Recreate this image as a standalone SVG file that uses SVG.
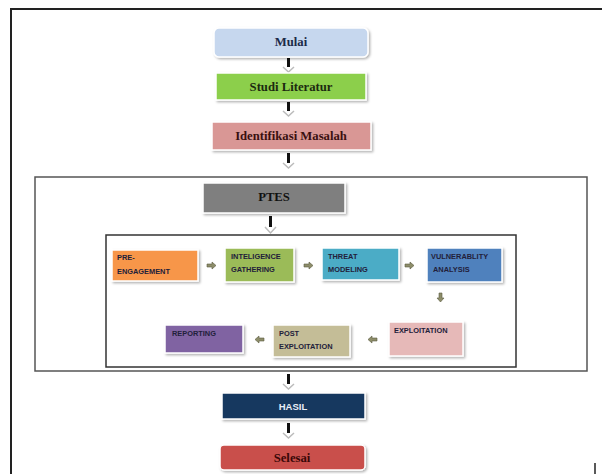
<svg xmlns="http://www.w3.org/2000/svg" width="602" height="474" viewBox="0 0 602 474">
<defs>
<style>
.t{font-family:"Liberation Serif","Times New Roman",serif;font-weight:bold;font-size:12.7px;text-anchor:middle}
.s{font-family:"Liberation Sans",Arial,sans-serif;font-weight:bold;font-size:7.4px;fill:#22203a}
.frame{fill:none;stroke:#222;stroke-width:2}
.box{stroke:#fff;stroke-width:1.5}
.bar{fill:#111}
.chev{fill:none;stroke:#bbb;stroke-width:1.5}
.blk{fill:#8d8d6a;stroke:#5a5a40;stroke-width:0.6}
</style>
<filter id="sh" x="-10%" y="-10%" width="130%" height="140%"><feDropShadow dx="1.5" dy="1.5" stdDeviation="1" flood-color="#000" flood-opacity="0.3"/></filter>
</defs>
<rect width="602" height="474" fill="#fff"/>
<path class="frame" d="M11 474 V9 H602"/>
<line x1="595" y1="463" x2="595" y2="474" stroke="#222" stroke-width="1.5"/>
<rect x="35" y="177" width="552" height="194" fill="none" stroke="#555" stroke-width="1.5"/>
<rect x="106" y="235" width="410" height="132" fill="none" stroke="#333" stroke-width="1.5"/>

<g id="connectors">
<rect class="bar" x="287" y="58" width="3" height="9"/><polyline class="chev" points="283,67 288.5,72 294,67"/>
<rect class="bar" x="287" y="102" width="3" height="9"/><polyline class="chev" points="283,111 288.5,116 294,111"/>
<rect class="bar" x="287" y="153" width="3" height="10"/><polyline class="chev" points="283,163 288.5,168 294,163"/>
<rect class="bar" x="269" y="216" width="3" height="11"/><polyline class="chev" points="265,227 270.5,233 276,227"/>
<rect class="bar" x="287" y="374" width="3" height="10"/><polyline class="chev" points="283,384 288.5,389 294,384"/>
<rect class="bar" x="287" y="423" width="3" height="10"/><polyline class="chev" points="283,433 288.5,438 294,433"/>
<polygon class="blk" points="207,264 212,264 212,262 216,265.5 212,269 212,267 207,267"/>
<polygon class="blk" points="304,264 309,264 309,262 313,265.5 309,269 309,267 304,267"/>
<polygon class="blk" points="405,264 410,264 410,262 414,265.5 410,269 410,267 405,267"/>
<polygon class="blk" points="439,293 442,293 442,298 444,298 440.5,302 437,298 439,298"/>
<polygon class="blk" points="377,338 372,338 372,336 368,339.5 372,343 372,341 377,341"/>
<polygon class="blk" points="264,338 259,338 259,336 255,339.5 259,343 259,341 264,341"/>
</g>

<g id="mulai"><rect class="box" x="214" y="28" width="154" height="29" rx="5" fill="#c6d7ee" filter="url(#sh)"/><text class="t" x="291" y="46" fill="#1b2a48">Mulai</text></g>
<g id="studi"><rect class="box" x="216" y="73" width="150" height="27" fill="#8ccf4c" filter="url(#sh)"/><text class="t" x="291" y="91" fill="#1c2a10">Studi Literatur</text></g>
<g id="identifikasi"><rect class="box" x="212" y="122" width="159" height="28" fill="#d99795" filter="url(#sh)"/><text class="t" x="291" y="140" fill="#3a1010">Identifikasi Masalah</text></g>
<g id="ptes"><rect class="box" x="203" y="183" width="142" height="30" fill="#7f7f7f" filter="url(#sh)"/><text class="t" x="274" y="201" fill="#111">PTES</text></g>

<g id="pre"><rect class="box" x="112" y="250" width="86" height="31" fill="#f7964a" filter="url(#sh)"/><text class="s" x="117" y="260" fill="#4a2410">PRE-</text><text class="s" x="117" y="274">ENGAGEMENT</text></g>
<g id="intel"><rect class="box" x="225" y="248" width="69" height="34" fill="#9bbb59" filter="url(#sh)"/><text class="s" x="231" y="259">INTELIGENCE</text><text class="s" x="231" y="272">GATHERING</text></g>
<g id="threat"><rect class="box" x="322" y="248" width="77" height="32" fill="#4bacc6" filter="url(#sh)"/><text class="s" x="328" y="259">THREAT</text><text class="s" x="328" y="272">MODELING</text></g>
<g id="vuln"><rect class="box" x="427" y="248" width="75" height="34" fill="#4f81bd" filter="url(#sh)"/><text class="s" x="431" y="259">VULNERABLITY</text><text class="s" x="433" y="272">ANALYSIS</text></g>
<g id="exploit"><rect class="box" x="389" y="322" width="74" height="34" fill="#e6b9b8" filter="url(#sh)"/><text class="s" x="394" y="333">EXPLOITATION</text></g>
<g id="post"><rect class="box" x="273" y="325" width="77" height="32" fill="#c4bd97" filter="url(#sh)"/><text class="s" x="279" y="336">POST</text><text class="s" x="279" y="349">EXPLOITATION</text></g>
<g id="report"><rect class="box" x="165" y="325" width="78" height="28" fill="#8064a2" filter="url(#sh)"/><text class="s" x="172" y="336">REPORTING</text></g>

<g id="hasil"><rect class="box" x="222" y="393" width="143" height="26" fill="#17375e" filter="url(#sh)"/><text class="t" x="293" y="410" fill="#e8eef8" style="font-family:'Liberation Sans',Arial,sans-serif;font-size:9.5px">HASIL</text></g>
<g id="selesai"><rect class="box" x="220" y="445" width="145" height="25" rx="4" fill="#c9504c" filter="url(#sh)"/><text class="t" x="292" y="462" fill="#3a0808">Selesai</text></g>
</svg>
